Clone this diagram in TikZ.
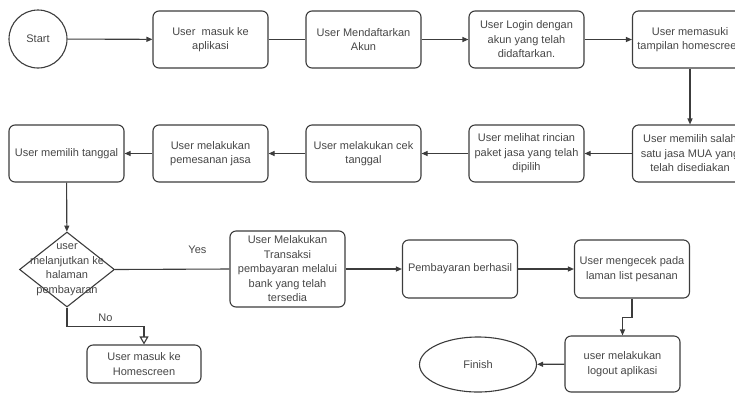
\documentclass[tikz,border=0pt]{standalone}
\usepackage{fontspec}
\setmainfont{Liberation Sans}
\usetikzlibrary{shapes.geometric,arrows.meta}
\definecolor{linec}{RGB}{60,60,60}
\definecolor{textc}{RGB}{70,70,70}
\begin{document}
\begin{tikzpicture}[x=1pt,y=-1pt,
  every node/.style={font=\fontsize{11}{14.5}\selectfont, text=textc},
  box/.style={draw=linec, line width=1.1pt, rounded corners=6pt, minimum width=115pt, minimum height=57pt, align=center, inner sep=1pt},
  arr/.style={draw=linec, line width=1.1pt, -{Triangle[length=6pt,width=5pt]}},
  plain/.style={draw=linec, line width=1.1pt},
  openarr/.style={draw=linec, line width=1.1pt, -{Triangle[open,length=8pt,width=9pt,fill=white]}}]
\useasboundingbox (0,0) rectangle (735,392);
\clip (0,0) rectangle (735,392);
% row 1
\node[circle, draw=linec, line width=1.1pt, minimum size=58pt, inner sep=0] (start) at (38,39) {Start};
\node[box] (b1) at (210.5,39.5) {User\ \ masuk ke\\aplikasi};
\node[box] (b2) at (363.5,39.5) {User Mendaftarkan\\Akun};
\node[box] (b3) at (526.5,39.5) {User Login dengan\\akun yang telah\\didaftarkan.};
\node[box] (b4) at (690,39.5) {User memasuki\\tampilan homescreen};
% row 2
\node[box] (e) at (690,153.5) {User memilih salah\\satu jasa MUA yang\\telah disediakan};
\node[box] (d) at (526.5,153.5) {User melihat rincian\\paket jasa yang telah\\dipilih};
\node[box] (c) at (363.5,153.5) {User melakukan cek\\tanggal};
\node[box] (bb) at (210.5,153.5) {User melakukan\\pemesanan jasa};
\node[box] (a) at (66.5,153.5) {User memilih tanggal};
% row 3
\node[diamond, draw=linec, line width=1.1pt, minimum width=95pt, minimum height=75pt, inner sep=0] (dec) at (67,269.5) {};
\node[align=center, inner sep=0] (dectext) at (dec.center) {user\\melanjutkan ke\\halaman\\pembayaran};
\node[box, minimum height=76pt] (t) at (287.5,269) {User Melakukan\\Transaksi\\pembayaran melalui\\bank yang telah\\tersedia};
\node[box, minimum height=58pt] (p) at (460,269) {Pembayaran berhasil};
\node[box, minimum height=58pt] (m) at (632,269) {User mengecek pada\\laman list pesanan};
\node[box, minimum width=114pt, minimum height=38pt] (hs) at (144,364) {User masuk ke\\Homescreen};
\node[box, minimum height=56pt] (lo) at (622.5,364) {user melakukan\\logout aplikasi};
\node[ellipse, draw=linec, line width=1.1pt, minimum width=117pt, minimum height=55pt, inner sep=0] (fin) at (478,364.5) {Finish};
% connectors
\draw[arr] (start) -- (b1);
\draw[plain] (b1) -- (b2);
\draw[arr] (b2) -- (b3);
\draw[arr] (b3) -- (b4);
\draw[arr] (b4) -- (e);
\draw[arr] (e) -- (d);
\draw[arr] (d) -- (c);
\draw[arr] (c) -- (bb);
\draw[arr] (bb) -- (a);
\draw[arr] (a) -- (dec);
\draw[plain] (dec.east) -- node[pos=0.72, above=12pt] (yes) {Yes} (t.west);
\draw[arr] (t) -- (p);
\draw[arr] (p) -- (m);
\draw[arr] (m.south) -- ++(0,19) -| (lo.north);
\draw[arr] (lo) -- (fin);
\draw[openarr] (dec.south) -- ++(0,19) -| node[pos=0.25, above=1pt] (no) {No} (hs.north);
\end{tikzpicture}
\end{document}
